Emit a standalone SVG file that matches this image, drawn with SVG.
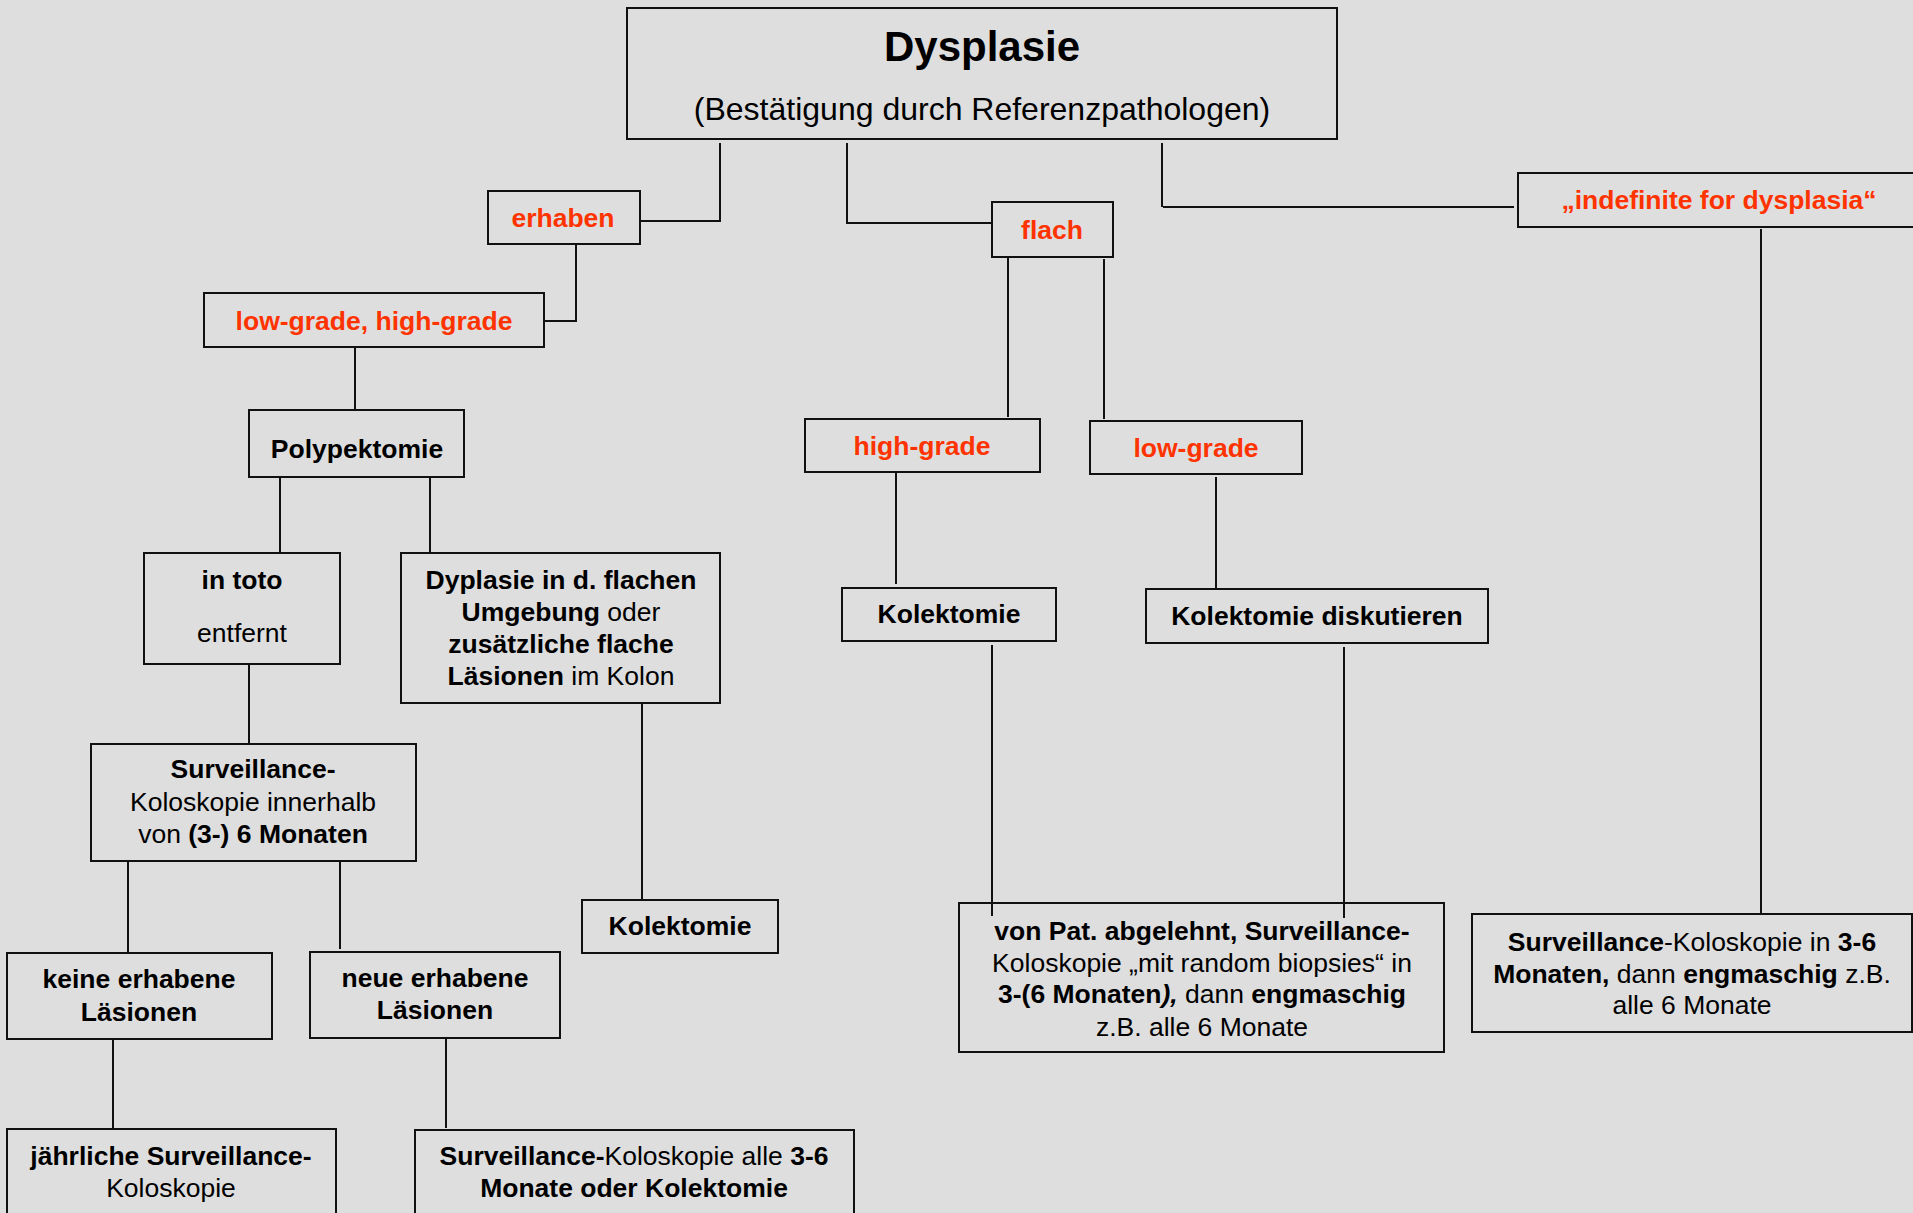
<svg xmlns="http://www.w3.org/2000/svg" width="1913" height="1213" viewBox="0 0 1913 1213">
<style>
  text { font-family: "Liberation Sans", Arial, sans-serif; font-size: 26.5px; fill: #000; text-anchor: middle; }
  .b { font-weight: bold; }
  .bi { font-weight: bold; font-style: italic; }
  .red { fill: #ff3300; font-weight: bold; }
  .box { fill: none; stroke: #111; stroke-width: 2; }
  .conn path { fill: none; stroke: #111; stroke-width: 2; }
</style>
<rect x="0" y="0" width="1913" height="1213" fill="#dedede"/>

<g id="connectors" class="conn">
  <path d="M720,143 V221 H640"/>
  <path d="M847,143 V223 H992"/>
  <path d="M1162,143 V207"/>
  <path d="M1163,207 H1514"/>
  <path d="M576,244 V321 H544"/>
  <path d="M355,347 V410"/>
  <path d="M280,477 V552"/>
  <path d="M430,477 V552"/>
  <path d="M249,664 V743"/>
  <path d="M642,703 V900"/>
  <path d="M128,861 V952"/>
  <path d="M340,861 V949"/>
  <path d="M113,1039 V1129"/>
  <path d="M446,1038 V1128"/>
  <path d="M1008,257 V417"/>
  <path d="M1104,259 V419"/>
  <path d="M896,472 V584"/>
  <path d="M1216,477 V589"/>
  <path d="M992,645 V916"/>
  <path d="M1344,647 V918"/>
  <path d="M1761,229 V913"/>
</g>

<g id="n-dysplasie">
  <rect class="box" x="627" y="8" width="710" height="131"/>
  <text x="982" y="61" class="b" style="font-size:42px">Dysplasie</text>
  <text x="982" y="120" style="font-size:32px">(Bestätigung durch Referenzpathologen)</text>
</g>

<g id="n-erhaben">
  <rect class="box" x="488" y="191" width="152" height="53"/>
  <text x="563" y="227" class="red">erhaben</text>
</g>

<g id="n-flach">
  <rect class="box" x="992" y="202" width="121" height="55"/>
  <text x="1052" y="239" class="red">flach</text>
</g>

<g id="n-indefinite">
  <rect class="box" x="1518" y="173" width="410" height="54"/>
  <text x="1719" y="209" class="red">„indefinite for dysplasia“</text>
</g>

<g id="n-lowhigh">
  <rect class="box" x="204" y="293" width="340" height="54"/>
  <text x="374" y="330" class="red">low-grade, high-grade</text>
</g>

<g id="n-polypektomie">
  <rect class="box" x="249" y="410" width="215" height="67"/>
  <text x="357" y="458" class="b">Polypektomie</text>
</g>

<g id="n-intoto">
  <rect class="box" x="144" y="553" width="196" height="111"/>
  <text x="242" y="589" class="b">in toto</text>
  <text x="242" y="642">entfernt</text>
</g>

<g id="n-dyplasie-flach">
  <rect class="box" x="401" y="553" width="319" height="150"/>
  <text x="561" y="589" class="b">Dyplasie in d. flachen</text>
  <text x="561" y="621"><tspan class="b">Umgebung</tspan> oder</text>
  <text x="561" y="653" class="b">zusätzliche flache</text>
  <text x="561" y="685"><tspan class="b">Läsionen</tspan> im Kolon</text>
</g>

<g id="n-surveillance-36">
  <rect class="box" x="91" y="744" width="325" height="117"/>
  <text x="253" y="778" class="b">Surveillance-</text>
  <text x="253" y="811">Koloskopie innerhalb</text>
  <text x="253" y="843">von <tspan class="b">(3-) 6 Monaten</tspan></text>
</g>

<g id="n-kolektomie-left">
  <rect class="box" x="582" y="900" width="196" height="53"/>
  <text x="680" y="935" class="b">Kolektomie</text>
</g>

<g id="n-keine">
  <rect class="box" x="7" y="953" width="265" height="86"/>
  <text x="139" y="988" class="b">keine erhabene</text>
  <text x="139" y="1021" class="b">Läsionen</text>
</g>

<g id="n-neue">
  <rect class="box" x="310" y="952" width="250" height="86"/>
  <text x="435" y="987" class="b">neue erhabene</text>
  <text x="435" y="1019" class="b">Läsionen</text>
</g>

<g id="n-jaehrlich">
  <rect class="box" x="7" y="1129" width="329" height="120"/>
  <text x="171" y="1165" class="b">jährliche Surveillance-</text>
  <text x="171" y="1197">Koloskopie</text>
</g>

<g id="n-surveillance-alle">
  <rect class="box" x="415" y="1130" width="439" height="120"/>
  <text x="634" y="1165"><tspan class="b">Surveillance-</tspan>Koloskopie alle <tspan class="b">3-6</tspan></text>
  <text x="634" y="1197" class="b">Monate oder Kolektomie</text>
</g>

<g id="n-highgrade">
  <rect class="box" x="805" y="419" width="235" height="53"/>
  <text x="922" y="455" class="red">high-grade</text>
</g>

<g id="n-lowgrade">
  <rect class="box" x="1090" y="421" width="212" height="53"/>
  <text x="1196" y="457" class="red">low-grade</text>
</g>

<g id="n-kolektomie-mid">
  <rect class="box" x="842" y="588" width="214" height="53"/>
  <text x="949" y="623" class="b">Kolektomie</text>
</g>

<g id="n-kolektomie-diskutieren">
  <rect class="box" x="1146" y="589" width="342" height="54"/>
  <text x="1317" y="625" class="b">Kolektomie diskutieren</text>
</g>

<g id="n-vonpat">
  <rect class="box" x="959" y="903" width="485" height="149"/>
  <text x="1202" y="940" class="b">von Pat. abgelehnt, Surveillance-</text>
  <text x="1202" y="972">Koloskopie „mit random biopsies“ in</text>
  <text x="1202" y="1003"><tspan class="b">3-(6 Monaten</tspan><tspan class="bi">),</tspan> dann <tspan class="b">engmaschig</tspan></text>
  <text x="1202" y="1036">z.B. alle 6 Monate</text>
</g>

<g id="n-surveillance-right">
  <rect class="box" x="1472" y="914" width="440" height="118"/>
  <text x="1692" y="951"><tspan class="b">Surveillance</tspan>-Koloskopie in <tspan class="b">3-6</tspan></text>
  <text x="1692" y="983"><tspan class="b">Monaten,</tspan> dann <tspan class="b">engmaschig</tspan> z.B.</text>
  <text x="1692" y="1014">alle 6 Monate</text>
</g>
</svg>
